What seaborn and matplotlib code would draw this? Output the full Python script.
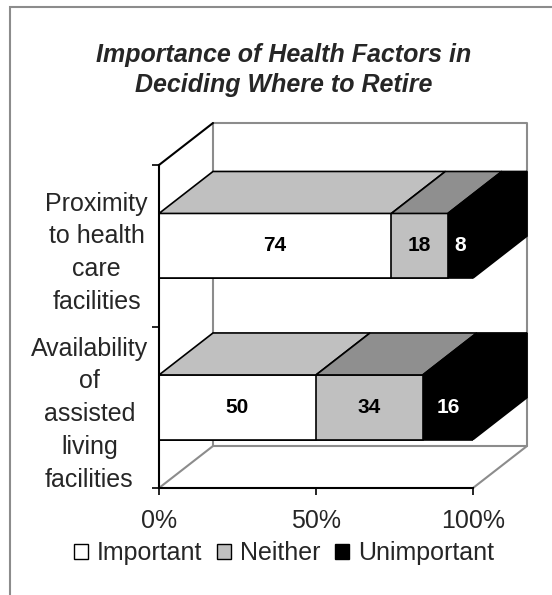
import matplotlib
matplotlib.use('Agg')
import matplotlib.pyplot as plt
from matplotlib.patches import Polygon, Rectangle, Patch
import numpy as np
import pandas as pd
import seaborn as sns

categories = ['Proximity\nto health\ncare\nfacilities',
              'Availability\nof\nassisted\nliving\nfacilities']
important = [74, 50]
neither = [18, 34]
unimportant = [8, 16]
series = ['Important', 'Neither', 'Unimportant']
xticks = [0, 50, 100]
xtick_labels = ['0%', '50%', '100%']

front_colors = {'Important': 'white', 'Neither': '#c0c0c0', 'Unimportant': 'black'}
top_colors = {'Important': '#c0c0c0', 'Neither': '#8f8f8f', 'Unimportant': 'black'}
label_colors = {'Important': 'black', 'Neither': 'black', 'Unimportant': 'white'}

sns.set_style('white')
plt.rcParams['font.family'] = ['Liberation Sans', 'DejaVu Sans']

df = pd.DataFrame({'Category': categories,
                   'Important': important,
                   'Neither': neither,
                   'Unimportant': unimportant})
# cumulative sums for stacked bars
df['cum_imp'] = df['Important']
df['cum_nei'] = df['Important'] + df['Neither']
df['cum_unimp'] = df['cum_nei'] + df['Unimportant']

W, H = 552, 595
fig = plt.figure(figsize=(W / 100, H / 100), dpi=100)
ax = fig.add_axes([159 / W, (H - 488) / H, 314 / W, 323 / H])

bar_w = 0.4
depth_x = 17.2   # depth in x data units
depth_y = 0.26   # depth in category units

# back wall and floor (grey) + left top edge
wall = dict(color='#8c8c8c', lw=1.5, clip_on=False, zorder=0.5)
ax.plot([depth_x, depth_x, 100 + depth_x, 100 + depth_x, depth_x],
        [1.5 - depth_y, -0.5 - depth_y, -0.5 - depth_y, 1.5 - depth_y, 1.5 - depth_y], **wall)
ax.plot([0, depth_x], [1.5, 1.5 - depth_y], **wall)
ax.plot([100, 100 + depth_x], [1.5, 1.5 - depth_y], **wall)
ax.plot([0, depth_x], [-0.5, -0.5 - depth_y], color='black', lw=1.5, clip_on=False, zorder=0.6)

for col, name in [('cum_unimp', 'Unimportant'), ('cum_nei', 'Neither'), ('cum_imp', 'Important')]:
    sns.barplot(data=df, x=col, y='Category', orient='h', color=front_colors[name],
                saturation=1, width=bar_w, edgecolor='black', linewidth=1.2, ax=ax, zorder=2)

# 3D top and side faces
for i in range(len(categories)):
    left = 0
    top = i - bar_w / 2
    bot = i + bar_w / 2
    for name, vals in zip(series, [important, neither, unimportant]):
        right = left + vals[i]
        poly = Polygon([(left, top), (right, top), (right + depth_x, top - depth_y),
                        (left + depth_x, top - depth_y)], closed=True,
                       facecolor=top_colors[name], edgecolor='black', lw=1.2,
                       clip_on=False, zorder=2.5)
        ax.add_patch(poly)
        ax.text(left + vals[i] / 2, i, str(vals[i]), ha='center', va='center',
                fontsize=15, fontweight='bold', color=label_colors[name], zorder=4)
        left = right
    side = Polygon([(100, top), (100, bot), (100 + depth_x, bot - depth_y),
                    (100 + depth_x, top - depth_y)], closed=True,
                   facecolor='black', edgecolor='black', lw=1.2, clip_on=False, zorder=2.5)
    ax.add_patch(side)

ax.set_xlim(0, 100)
ax.set_ylim(1.5, -0.5)
ax.set_xlabel('')
ax.set_ylabel('')
ax.set_xticks(xticks)
ax.set_xticklabels(xtick_labels, fontsize=18)
ax.set_yticks([0, 1])
ax.set_yticklabels(categories, fontsize=18, ha='right', multialignment='center', linespacing=1.46)
ax.set_yticks([-0.5, 0.5, 1.5], minor=True)
ax.tick_params(axis='x', bottom=True, direction='out', length=5, width=1.2, color='black', pad=10)
ax.tick_params(axis='y', which='major', left=True, length=0, pad=8)
ax.tick_params(axis='y', which='minor', left=True, direction='out', length=5, width=1.2, color='black')
for s in ['top', 'right']:
    ax.spines[s].set_visible(False)
for s in ['left', 'bottom']:
    ax.spines[s].set_color('black')
    ax.spines[s].set_linewidth(1.5)
ax.set_facecolor('none')

fig.text(284 / W, 1 - 70 / H, 'Importance of Health Factors in\nDeciding Where to Retire',
         ha='center', va='center', fontsize=18, fontweight='bold', fontstyle='italic', linespacing=1.35)

handles = [Patch(facecolor=front_colors[n], edgecolor='black', lw=1) for n in series]
fig.legend(handles, series, loc='center', bbox_to_anchor=(284 / W, 1 - 553 / H), ncol=3,
           frameon=False, fontsize=18, handlelength=0.55, handleheight=0.55,
           handletextpad=0.35, columnspacing=0.6, borderaxespad=0)

fig.add_artist(Rectangle((9.5 / W, -0.1), 1.2, 1.1 - 7.5 / H, transform=fig.transFigure,
                         fill=False, edgecolor='#8c8c8c', lw=1.5))

fig.savefig('out.png', dpi=100)
